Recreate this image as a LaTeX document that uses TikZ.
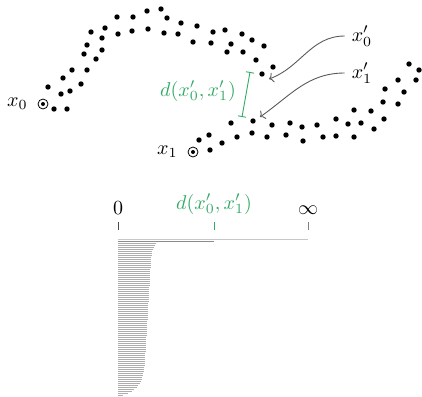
\documentclass[tikz,border=0pt]{standalone}
\usepackage{tikz}
\usetikzlibrary{arrows.meta,positioning}
\definecolor{distgreen}{HTML}{33AA66}

\begin{document}
\begin{tikzpicture}[x=0.5pt, y=-0.5pt,
    dot/.style={circle, fill=black, inner sep=0pt, minimum size=2.7pt},
    startpt/.style={circle, draw=black, line width=0.4pt, inner sep=0pt, minimum size=5pt,
      path picture={\fill (path picture bounding box.center) circle (1pt);}},
    pointer/.style={draw=black!65, line width=0.45pt, -{To[length=2.2pt,width=5pt]}},
    bar/.style={draw=black!32, line width=0.45pt}]
  \useasboundingbox (0,0) rectangle (422,396);

  % First trajectory (from x_0)
  \node[startpt] (s0) at (43,104) {};
  \node[left=1.5pt of s0] (x0lab) {$x_0$};
  \foreach \p [count=\k] in {(48,87),(54,109),(67,109),(61,94),(70,91),(63,78),(72,70),(81,84),
      (87,70),(84,54),(87,45),(96,59),(102,50),(102,38),(91,32),(105,28),(117,17),(118,34),
      (133,17),(132,31),(147,11),(148,29),(161,9),(167,18),(164,33),(178,34),(181,23),(193,42),
      (197,26),(211,43),(213,32),(225,30),(231,44),(227,52),(242,34),(243,52),(252,40),(264,46),
      (256,60),(273,67)}
    \node[dot] (a\k) at \p {};
  \node[dot] (p0) at (262,74) {};

  % Second trajectory (from x_1)
  \node[startpt] (s1) at (193,152) {};
  \node[left=1.5pt of s1] (x1lab) {$x_1$};
  \foreach \p [count=\k] in {(210,150),(199,140),(209,135),(222,143),(237,137),(231,123),(252,133),
      (267,137),(272,125),(286,135),(290,123),(303,141),(302,127),(317,125),(323,137),(336,136),
      (336,119),(348,124),(354,137),(354,110),(361,123),(371,111),(374,129),(384,119),(383,102),
      (385,89),(398,104),(404,92),(398,80),(409,64),(416,80),(419,70)}
    \node[dot] (b\k) at \p {};
  \node[dot] (p1) at (253,121) {};

  % Labels of the two closest points
  \node (xp0) at (362,36) {$x'_0$};
  \node (xp1) at (362,73) {$x'_1$};
  \draw[pointer] (xp0.west) to[out=180, in=20] ([shift={(7,5)}]p0.center);
  \draw[pointer] (xp1.west) to[out=180, in=35] ([shift={(7,-4)}]p1.center);

  % Distance between them
  \draw[distgreen, line width=0.45pt, {Bar[width=4pt]}-{Bar[width=4pt]}]
    ([shift={(-12,-2)}]p0.center) -- ([shift={(-11,-4)}]p1.center);
  \node[text=distgreen] (dlab) at (198,91) {$d(x'_0,x'_1)$};

  % Axis
  \node[anchor=base] (zero) at (118,214) {$0$};
  \node[anchor=base, text=distgreen] (dval) at (214,209) {$d(x'_0,x'_1)$};
  \node[anchor=base] (inf) at (308,214) {$\infty$};
  \draw[black!70, line width=0.4pt] (118,222) -- (118,230);
  \draw[distgreen, line width=0.4pt] (214,222) -- (214,230);
  \draw[black!50, line width=0.4pt] (308,222) -- (308,230);

  % Sorted distances
  \draw[bar, draw=black!22] (118,239) -- (308,239);
  \draw[bar, draw=black!45] (118,241) -- (214,241);
  \foreach \i in {0,...,76}{
    \pgfmathsetmacro\t{\i/76}
    \pgfmathsetmacro\w{34-9*\t-20*\t^20+4*exp(-30*\t)}
    \draw[bar] (118,243+2*\i) -- ++(\w,0);
  }
\end{tikzpicture}
\end{document}
